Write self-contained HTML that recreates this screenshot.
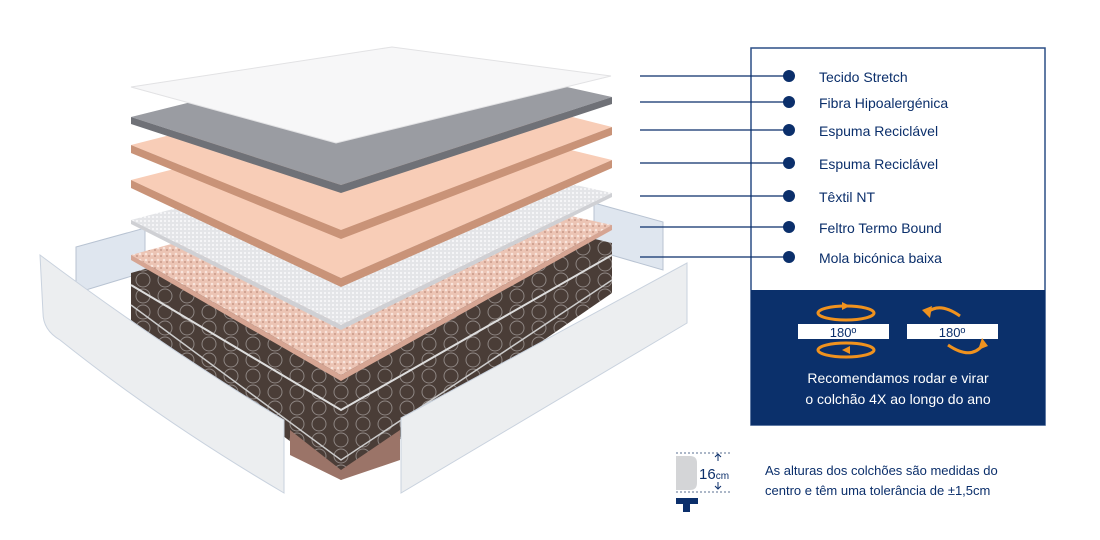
<!DOCTYPE html>
<html><head><meta charset="utf-8"><style>
html,body{margin:0;padding:0;background:#fff;width:1100px;height:540px;overflow:hidden;font-family:"Liberation Sans",sans-serif}
</style></head><body>
<svg width="1100" height="540" viewBox="0 0 1100 540" xmlns="http://www.w3.org/2000/svg">
<defs>
<pattern id="spr" width="22" height="16" patternUnits="userSpaceOnUse">
<rect width="22" height="16" fill="#4a3d37"/>
<circle cx="11" cy="8" r="7" fill="none" stroke="#8d8582" stroke-width="1"/>
</pattern>
<pattern id="spk" width="6" height="6" patternUnits="userSpaceOnUse">
<rect width="6" height="6" fill="#ecc4b4"/><circle cx="2" cy="2" r="1.3" fill="#f8e4dc"/><circle cx="5" cy="4" r="1" fill="#c99a8a"/>
</pattern>
<pattern id="msh" width="4" height="4" patternUnits="userSpaceOnUse">
<rect width="4" height="4" fill="#e4e5e8"/><rect width="2" height="2" fill="#f5f5f7"/>
</pattern>
</defs>
<polygon points="76,247 145,228 145,272 76,293" fill="#dfe6ef" stroke="#b8c3d2"/>
<polygon points="594,203 663,222 663,270 594,250" fill="#dfe6ef" stroke="#b8c3d2"/>
<polygon points="131,273 406,195 612,243 612,293 341,480 131,320" fill="url(#spr)"/>
<polygon points="290,430 341,470 400,430 400,460 341,480 290,455" fill="#9b7468"/>
<polyline points="131,285 341,410 612,255" fill="none" stroke="#ddd" stroke-width="2"/>
<polyline points="131,305 341,460 612,280" fill="none" stroke="#ccc" stroke-width="1.5"/>
<polygon points="131,255 406,180 612,225 341,375" fill="url(#spk)"/>
<polygon points="131,255 341,375 612,225 612,230 341,381 131,260" fill="#d6a593"/>
<polygon points="131,220 406,148 612,193 341,325" fill="url(#msh)"/>
<polygon points="131,220 341,325 612,193 612,197 341,330 131,224" fill="#cfd0d4"/>
<polygon points="131,180 406,110 612,160 341,278" fill="#f8cdb7"/>
<polygon points="131,180 341,278 612,160 612,168 341,287 131,188" fill="#c99378"/>
<polygon points="131,145 406,75 612,127 341,230" fill="#f8cdb7"/>
<polygon points="131,145 341,230 612,127 612,135 341,239 131,153" fill="#c99378"/>
<polygon points="131,117 400,50 612,97 341,185" fill="#9a9ca2"/>
<polygon points="131,117 341,185 612,97 612,104 341,193 131,124" fill="#6f7177"/>
<polygon points="131,87 392,47 611,76 336,143" fill="#f7f7f8" stroke="#e2e2e4"/>
<path d="M40,255 Q160,345 284,420 L284,493 Q160,420 60,340 Q43,330 43,313 Z" fill="#eceef0" stroke="#c9d2de"/>
<polygon points="401,418 687,263 687,323 401,493" fill="#eceef0" stroke="#c9d2de"/>
<rect x="751" y="48" width="294" height="377" fill="#fff" stroke="#2c4f86" stroke-width="1.5"/>
<rect x="751" y="290" width="294" height="135" fill="#0b306b"/>
<g stroke="#0b2f6b" stroke-width="1.3">
<line x1="640" y1="76" x2="789" y2="76"/><line x1="640" y1="102" x2="789" y2="102"/>
<line x1="640" y1="130" x2="789" y2="130"/><line x1="640" y1="163" x2="789" y2="163"/>
<line x1="640" y1="196" x2="789" y2="196"/><line x1="640" y1="227" x2="789" y2="227"/>
<line x1="640" y1="257" x2="789" y2="257"/>
</g>
<g fill="#0b2f6b">
<circle cx="789" cy="76" r="6"/><circle cx="789" cy="102" r="6"/><circle cx="789" cy="130" r="6"/>
<circle cx="789" cy="163" r="6"/><circle cx="789" cy="196" r="6"/><circle cx="789" cy="227" r="6"/><circle cx="789" cy="257" r="6"/>
</g>
<g fill="#0b2f6b" font-size="14" font-family="Liberation Sans,sans-serif">
<text x="819" y="82">Tecido Stretch</text><text x="819" y="108">Fibra Hipoalergénica</text>
<text x="819" y="136">Espuma Reciclável</text><text x="819" y="169">Espuma Reciclável</text>
<text x="819" y="202">Têxtil NT</text><text x="819" y="233">Feltro Termo Bound</text>
<text x="819" y="263">Mola bicónica baixa</text>
</g>
<rect x="798" y="324" width="91" height="15" fill="#fff"/>
<rect x="907" y="324" width="91" height="15" fill="#fff"/>
<text x="843" y="337" font-size="13" text-anchor="middle" fill="#0b2f6b">180º</text>
<text x="952" y="337" font-size="13" text-anchor="middle" fill="#0b2f6b">180º</text>
<g fill="none" stroke="#f0921e" stroke-width="3">
<ellipse cx="846" cy="313" rx="28" ry="7"/><ellipse cx="846" cy="350" rx="28" ry="7"/>
<path d="M960,316 Q940,302 928,312"/><path d="M948,345 Q970,360 982,346"/>
</g>
<g fill="#f0921e">
<polygon points="842,302 850,306 842,310"/><polygon points="850,346 842,350 850,354"/>
<polygon points="922,310 932,306 930,318"/><polygon points="988,346 978,350 982,338"/>
</g>
<text x="898" y="383" font-size="14" text-anchor="middle" fill="#fff">Recomendamos rodar e virar</text>
<text x="898" y="404" font-size="14" text-anchor="middle" fill="#fff">o colchão 4X ao longo do ano</text>
<line x1="676" y1="453" x2="731" y2="453" stroke="#5a6f92" stroke-dasharray="2,2"/>
<line x1="676" y1="492" x2="731" y2="492" stroke="#5a6f92" stroke-dasharray="2,2"/>
<path d="M676,456 H690 Q697,456 697,463 V483 Q697,490 690,490 H676 Z" fill="#d4d5d7"/>
<text x="699" y="479" font-size="15" fill="#0b2f6b">16<tspan font-size="10">cm</tspan></text>
<path d="M718,461 V454 M715,457 L718,454 L721,457 M718,482 V489 M715,486 L718,489 L721,486" stroke="#0b2f6b" fill="none"/>
<rect x="676" y="498" width="22" height="6" fill="#0b2f6b"/><rect x="683" y="503" width="7" height="9" fill="#0b2f6b"/>
<text x="765" y="475" font-size="13" fill="#0b2f6b">As alturas dos colchões são medidas do</text>
<text x="765" y="495" font-size="13" fill="#0b2f6b">centro e têm uma tolerância de ±1,5cm</text>
</svg>
</body></html>
